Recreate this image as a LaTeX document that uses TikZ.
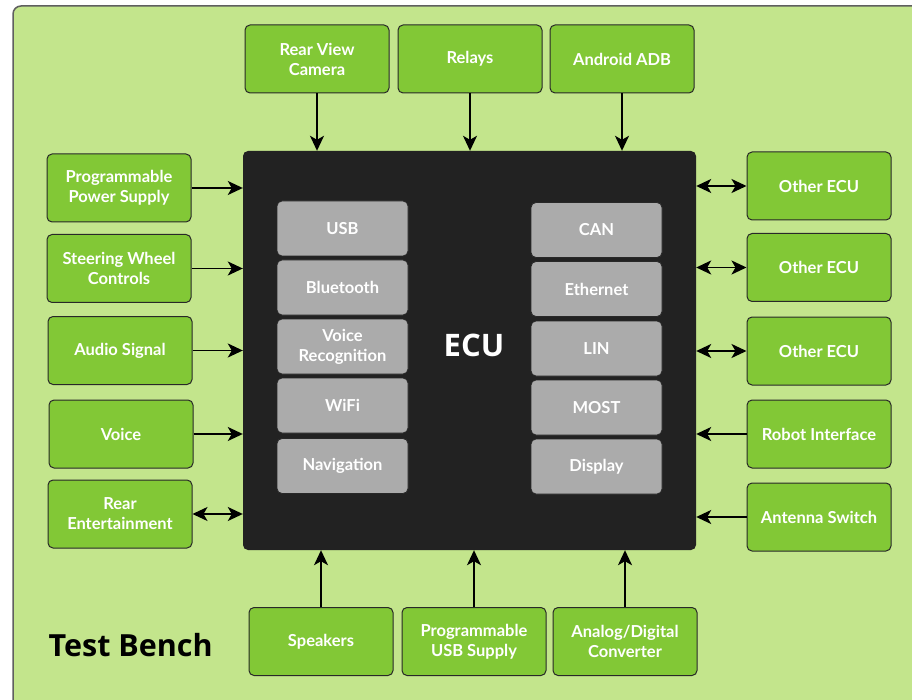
\documentclass[tikz,border=0pt]{standalone}
\usepackage{fontspec}
\setmainfont{Lato}
\newfontfamily\headfont{Open Sans}
\usetikzlibrary{                          % TikZ libraries
                arrows.meta,              % .
                calc}
\definecolor{benchbg}{RGB}{195,229,140}
\definecolor{benchfr}{RGB}{95,95,95}
\definecolor{unitgreen}{RGB}{130,200,54}
\definecolor{ecublack}{RGB}{34,34,34}
\definecolor{modgrey}{RGB}{171,171,171}
\definecolor{edgedark}{RGB}{40,40,40}

\begin{document}
\begin{tikzpicture}[x=1pt,y=-1pt
                    ]
                % define styles
\tikzset{unit/.style={rectangle,
                       rounded corners=5pt,
                       draw=edgedark,
                       fill=unitgreen,
                       line width=1pt,
                       minimum width=144pt,
                       minimum height=68pt,
                       inner sep=0,
                       align=center,
                       text=white,
                       font=\bfseries\fontsize{16.5}{20}\selectfont,
                       },
         module/.style={rectangle,
                       rounded corners=5pt,
                       draw=edgedark,
                       fill=modgrey,
                       line width=0.8pt,
                       minimum width=131pt,
                       minimum height=55pt,
                       inner sep=0,
                       align=center,
                       text=white,
                       font=\bfseries\fontsize{16.5}{20}\selectfont,
                       },
         sig/.style={line width=1.8pt,
                       -{Stealth[length=15pt,width=14pt,inset=4pt]},
                       },
         bus/.style={line width=1.8pt,
                       {Stealth[length=15pt,width=14pt,inset=4pt]}-{Stealth[length=15pt,width=14pt,inset=4pt]},
                       }
}

\useasboundingbox (0,0) rectangle (912,700);
\clip (0,0) rectangle (912,700);

% test bench frame
\path[draw=benchfr,fill=benchbg,line width=1.5pt,rounded corners=8pt]
    (13,6) rectangle (930,715);
\node[anchor=west,font=\headfont\bfseries\fontsize{30.5}{34}\selectfont] (bench) at (45,645) {Test Bench};

% ecu
\node[rectangle,rounded corners=5pt,fill=ecublack,minimum width=453pt,minimum height=399pt]
    (ecu) at (469.5,350.5) {};
\node[text=white,font=\headfont\bfseries\fontsize{31}{34}\selectfont] (ecuname) at (474,345) {ECU};

% modules inside the ecu
\foreach \name/\y/\txt in {usb/228.5/USB, bt/287.5/Bluetooth,
                           vr/346.5/Voice\\Recognition, wifi/405.5/WiFi, nav/466/Navigation}
    \node[module] (\name) at (342.5,\y) {\txt};
\foreach \name/\y/\txt in {can/230/CAN, eth/289/Ethernet,
                           lin/348.5/LIN, most/407.5/MOST, disp/466.5/Display}
    \node[module] (\name) at (596.5,\y) {\txt};

% nodes
\node[unit] (rvc)     at (317,59)    {Rear View\\Camera};
\node[unit] (relays)  at (470,59)    {Relays};
\node[unit] (adb)     at (622,59)    {Android ADB};

\node[unit] (pps)     at (119,188)   {Programmable\\Power Supply};
\node[unit] (swc)     at (119,268.5) {Steering Wheel\\Controls};
\node[unit] (audio)   at (120,350.5) {Audio Signal};
\node[unit] (voice)   at (121,434)   {Voice};
\node[unit] (rear)    at (120,514)   {Rear\\Entertainment};

\node[unit] (oecua)   at (819,186)   {Other ECU};
\node[unit] (oecub)   at (819,267.5) {Other ECU};
\node[unit] (oecuc)   at (819,351)   {Other ECU};
\node[unit] (robot)   at (819,434)   {Robot Interface};
\node[unit] (antenna) at (819,517)   {Antenna Switch};

\node[unit] (spk)     at (321,641.5) {Speakers};
\node[unit] (usbsup)  at (474,641.5) {Programmable\\USB Supply};
\node[unit] (adc)     at (625,641.5) {Analog/Digital\\Converter};

% connectors
\foreach \src in {rvc, relays, adb}
    \draw[sig] (\src.south) -- (\src.south |- ecu.north);
\foreach \src in {spk, usbsup, adc}
    \draw[sig] (\src.north) -- (\src.north |- ecu.south);
\foreach \src in {pps, swc, audio, voice}
    \draw[sig] (\src.east) -- (\src.east -| ecu.west);
\draw[bus] (rear.east) -- (rear.east -| ecu.west);
\foreach \peer in {oecua, oecub, oecuc}
    \draw[bus] (\peer.west) -- (\peer.west -| ecu.east);
\foreach \src in {robot, antenna}
    \draw[sig] (\src.west) -- (\src.west -| ecu.east);

\end{tikzpicture}
\end{document}
